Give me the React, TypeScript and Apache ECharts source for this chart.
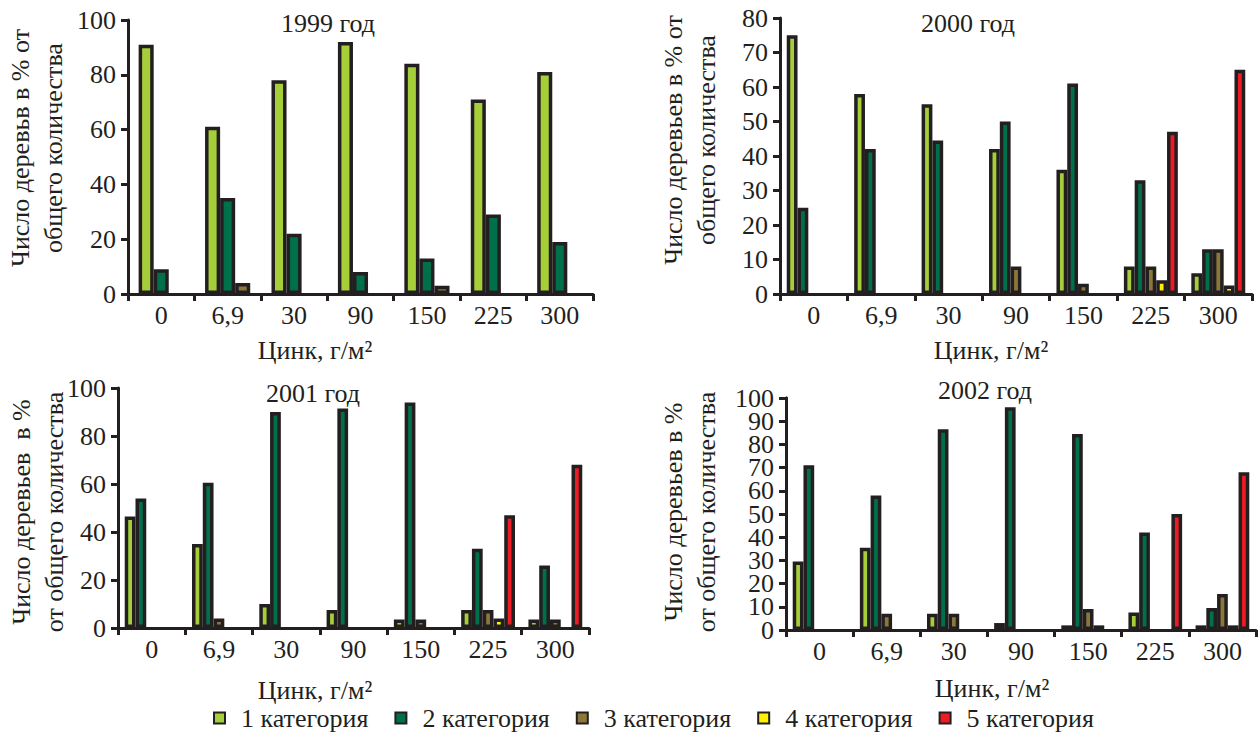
import React, { useEffect, useRef } from "react";
import * as echarts from "echarts";

// Zinc dose categories, g/m²
const zincLevels = ["0", "6,9", "30", "90", "150", "225", "300"];

const categoryNames = ["1 категория", "2 категория", "3 категория", "4 категория", "5 категория"];
const categoryColors = ["#a6ce39", "#00704a", "#8c773a", "#fff200", "#ed1c24"];

// 1999 — share of trees (%) per damage category
const y1999Cat1 = [91, 61, 78, 92, 84, 71, 81];
const y1999Cat2 = [9, 35, 22, 8, 13, 29, 19];
const y1999Cat3 = [null, 4, null, null, 3, null, null];

// 2000
const y2000Cat1 = [75, 58, 55, 42, 36, 8, 6];
const y2000Cat2 = [25, 42, 44.5, 50, 61, 33, 13];
const y2000Cat3 = [null, null, null, 8, 3, 8, 13];
const y2000Cat4 = [null, null, null, null, null, 4, 2.5];
const y2000Cat5 = [null, null, null, null, null, 47, 65];

// 2001
const y2001Cat1 = [46.5, 35, 10, 7.5, 3.5, 7.5, 3.5];
const y2001Cat2 = [54, 60.5, 90, 91.5, 94, 33, 26];
const y2001Cat3 = [null, 4, null, null, 3.5, 7.5, 3.5];
const y2001Cat4 = [null, null, null, null, null, 4, null];
const y2001Cat5 = [null, null, null, null, null, 47, 68];

// 2002
const y2002Cat1 = [29.5, 35.5, 7, 3, 2, 7.5, 2];
const y2002Cat2 = [71, 58, 86.5, 96, 84.5, 42, 9.5];
const y2002Cat3 = [null, 7, 7, null, 9, null, 15.5];
const y2002Cat4 = [null, null, null, null, 2, null, 2];
const y2002Cat5 = [null, null, null, null, null, 50, 68];

const panelTitles = ["1999 год", "2000 год", "2001 год", "2002 год"];
const xAxisTitle = "Цинк, г/м²";
const yAxisTitles = [
  "Число деревьв в % от\nобщего количества",
  "Число деревьев в % от\nобщего количества",
  "Число деревьев  в %\nот общего количества",
  "Число деревьев в %\nот общего количества",
];
const yMax = [100, 80, 100, 100];
const yStep = [20, 10, 20, 10];

const INK = "#231f20";
const FONT = "Times New Roman";
const FS = 26;

const panelData = [
  [y1999Cat1, y1999Cat2, y1999Cat3],
  [y2000Cat1, y2000Cat2, y2000Cat3, y2000Cat4, y2000Cat5],
  [y2001Cat1, y2001Cat2, y2001Cat3, y2001Cat4, y2001Cat5],
  [y2002Cat1, y2002Cat2, y2002Cat3, y2002Cat4, y2002Cat5],
];

const grids = [
  { left: 128, top: 20, width: 465, height: 274 },
  { left: 780, top: 18, width: 472, height: 276 },
  { left: 118, top: 388, width: 471, height: 240 },
  { left: 786, top: 398, width: 470, height: 232 },
];

const titlePos = [
  [328, 23],
  [968, 23],
  [313, 393],
  [985, 390],
];
const xNamePos = [
  [315, 350],
  [991, 350],
  [315, 690],
  [992, 688],
];
const yNamePos = [
  [37, 148],
  [690, 140],
  [38, 512],
  [690, 512],
];

function buildOption() {
  const axisLine = { show: true, lineStyle: { color: INK, width: 3 } };
  const axisTick = { show: true, length: 7, lineStyle: { color: INK, width: 3 } };
  const labelStyle = { color: INK, fontSize: FS, fontFamily: FONT };

  const xAxis = grids.map((_, i) => ({
    type: "category",
    gridIndex: i,
    data: zincLevels,
    axisLine,
    axisTick,
    axisLabel: { ...labelStyle, margin: 8, interval: 0 },
    splitLine: { show: false },
  }));

  // The dense 0–100 step-10 scale (last panel) keeps its end labels on a
  // companion axis so the inner labels are not dropped as overlapping.
  const dense = (i: number) => yStep[i] === 10 && yMax[i] === 100;

  const yAxis: any[] = grids.map((_, i) => ({
    type: "value",
    gridIndex: i,
    position: "left",
    min: 0,
    max: yMax[i],
    interval: yStep[i],
    axisLine,
    axisTick,
    axisLabel: {
      ...labelStyle,
      margin: 12,
      showMinLabel: !dense(i),
      showMaxLabel: !dense(i),
    },
    splitLine: { show: false },
  }));
  grids.forEach((_, i) => {
    if (!dense(i)) return;
    yAxis.push({
      type: "value",
      gridIndex: i,
      position: "left",
      offset: 0,
      min: 0,
      max: yMax[i],
      interval: yMax[i],
      axisLine,
      axisTick,
      axisLabel: { ...labelStyle, margin: 12, showMinLabel: true, showMaxLabel: true },
      splitLine: { show: false },
    });
  });

  const series: any[] = [];
  panelData.forEach((group, gi) => {
    group.forEach((values, si) => {
      series.push({
        type: "bar",
        name: categoryNames[si],
        xAxisIndex: gi,
        yAxisIndex: gi,
        data: values,
        barGap: "0%",
        barCategoryGap: gi === 0 ? "32%" : "20%",
        itemStyle: { color: categoryColors[si], borderColor: INK, borderWidth: 3.5 },
        emphasis: { disabled: true },
      });
    });
  });

  const textStyle = { fill: INK, fontSize: FS, fontFamily: FONT };
  const graphic: any[] = [];
  panelTitles.forEach((t, i) => {
    graphic.push({
      type: "text",
      x: titlePos[i][0],
      y: titlePos[i][1],
      style: { ...textStyle, text: t, textAlign: "center", textVerticalAlign: "middle" },
    });
    graphic.push({
      type: "text",
      x: xNamePos[i][0],
      y: xNamePos[i][1],
      style: { ...textStyle, text: xAxisTitle, textAlign: "center", textVerticalAlign: "middle" },
    });
    graphic.push({
      type: "text",
      x: yNamePos[i][0],
      y: yNamePos[i][1],
      rotation: Math.PI / 2,
      style: {
        ...textStyle,
        text: yAxisTitles[i],
        lineHeight: 33,
        textAlign: "center",
        textVerticalAlign: "middle",
      },
    });
  });

  return {
    animation: false,
    backgroundColor: "#ffffff",
    textStyle: { fontFamily: FONT, color: INK },
    grid: grids,
    xAxis,
    yAxis,
    legend: {
      data: categoryNames,
      left: 208,
      top: 700,
      icon: "rect",
      itemWidth: 11,
      itemHeight: 11,
      itemGap: 26,
      textStyle: { color: INK, fontSize: FS, fontFamily: FONT, padding: [0, 0, 0, 11] },
      selectedMode: false,
    },
    graphic,
    series,
  };
}

export default function App() {
  const ref = useRef<HTMLDivElement>(null);

  useEffect(() => {
    if (!ref.current) return;
    const chart = echarts.init(ref.current, undefined, { renderer: "svg" });
    chart.setOption(buildOption());
    return () => chart.dispose();
  }, []);

  return (
    <div
      ref={ref}
      style={{ position: "fixed", left: 0, top: 0, width: 1260, height: 733, background: "#fff" }}
    />
  );
}
